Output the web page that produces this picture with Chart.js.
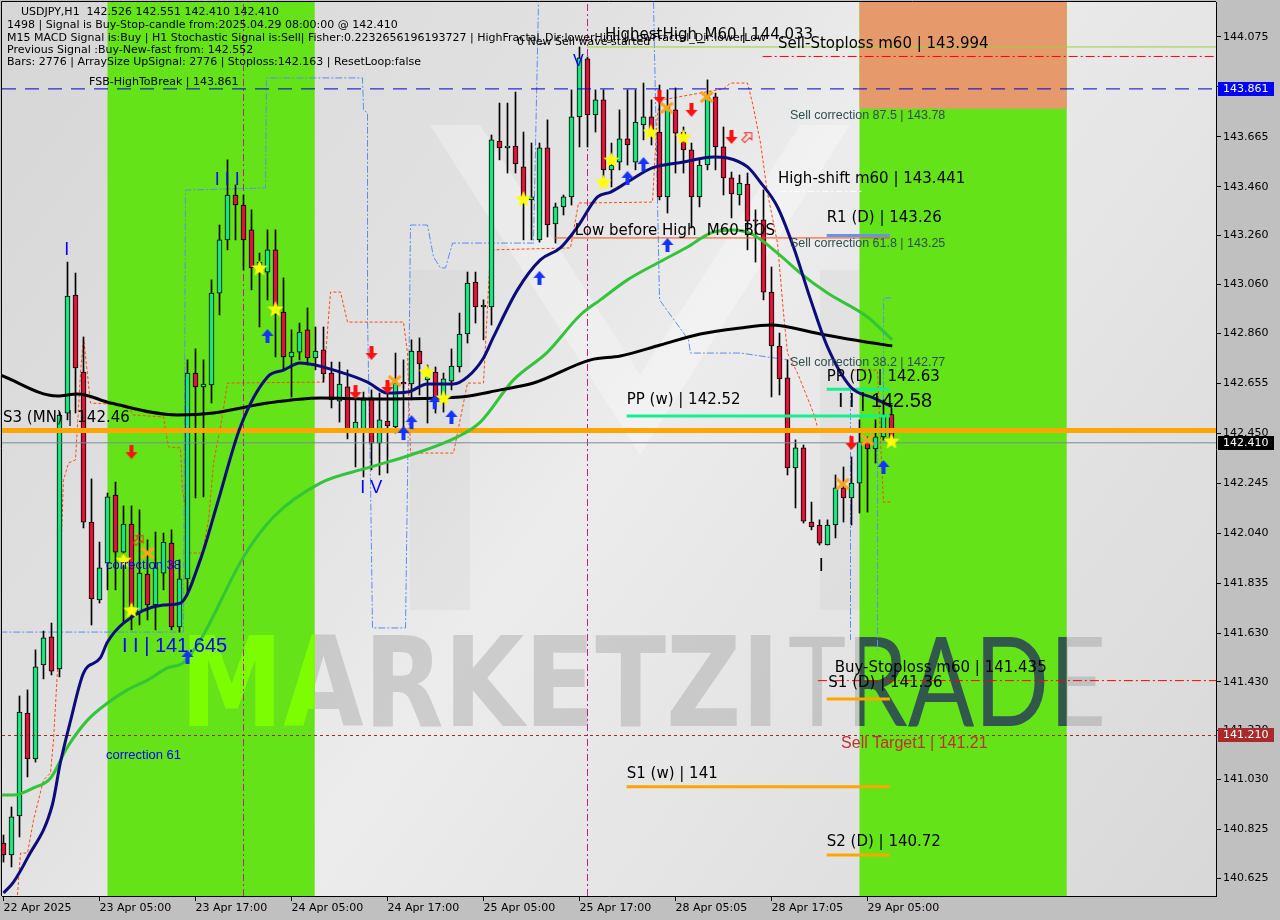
<!DOCTYPE html>
<html>
<head>
<meta charset="utf-8">
<title>USDJPY,H1</title>
<script src="https://cdn.jsdelivr.net/npm/chart.js@4.4.1/dist/chart.umd.min.js"></script>
<style>
  html, body { margin: 0; padding: 0; background: #c0c0c0; overflow: hidden; }
  canvas { display: block; }
</style>
</head>
<body>
<canvas id="chart" width="1280" height="920"></canvas>
<script>
// bar index 0 = 22 Apr 17:00, last bar 111 = 29 Apr 08:00
const tickBars = [0, 12, 24, 36, 48, 60, 72, 84, 96, 108];
const tickLabels = ['22 Apr 2025', '23 Apr 05:00', '23 Apr 17:00', '24 Apr 05:00', '24 Apr 17:00',
  '25 Apr 05:00', '25 Apr 17:00', '28 Apr 05:05', '28 Apr 17:05', '29 Apr 05:00'];
const priceTicks = [140.625, 140.825, 141.030, 141.230, 141.430, 141.630, 141.835, 142.040, 142.245,
  142.450, 142.655, 142.860, 143.060, 143.260, 143.460, 143.665, 143.870, 144.075];

const opens = [140.769,140.720,140.880,141.302,141.114,141.499,141.614,141.483,142.532,143.016,
142.700,142.085,141.766,141.917,142.196,141.962,142.077,141.716,141.872,141.745,
141.876,141.999,141.655,141.852,142.696,142.639,142.647,143.024,143.242,143.426,
143.385,143.283,143.127,143.110,143.201,142.946,142.762,142.782,142.873,142.758,
142.791,142.696,142.581,142.639,142.463,142.463,142.594,142.409,142.499,142.475,
142.659,142.651,142.786,142.668,142.700,142.598,142.663,142.721,142.856,143.069,
142.967,142.967,143.647,143.619,143.627,143.541,143.406,143.242,143.619,143.307,
143.377,143.418,143.746,143.984,143.754,143.816,143.529,143.561,143.656,143.561,
143.713,143.746,143.684,143.418,143.775,143.684,143.611,143.418,143.549,143.828,
143.623,143.496,143.426,143.471,143.324,143.324,143.028,142.807,142.676,142.307,
142.389,142.085,142.073,141.991,142.073,142.225,142.184,142.245,142.413,142.385,
142.434,142.526];
const highs = [140.802,140.917,141.372,141.397,141.561,141.638,141.671,142.536,143.151,143.106,
142.844,142.262,142.003,142.204,142.249,142.151,142.151,142.135,142.012,142.044,
142.040,142.053,141.930,142.750,142.795,142.750,143.078,143.303,143.570,143.467,
143.426,143.365,143.188,143.283,143.283,143.086,142.873,142.901,142.963,142.885,
142.885,142.741,142.741,142.709,142.586,142.618,142.627,142.614,142.614,142.778,
142.750,142.832,142.840,142.729,142.721,142.696,142.795,142.942,143.110,143.110,
142.996,143.672,143.803,143.803,143.848,143.684,143.639,143.639,143.734,143.393,
143.426,143.857,144.033,143.992,143.857,143.857,143.639,143.775,143.857,143.857,
143.885,143.816,143.877,143.857,143.865,143.705,143.639,143.570,143.898,143.844,
143.705,143.520,143.508,143.516,143.365,143.447,143.131,142.860,142.750,142.422,
142.401,142.167,142.094,142.094,142.278,142.311,142.352,142.504,142.434,142.504,
142.586,142.551];
const lows = [140.691,140.671,140.794,141.040,141.101,141.442,141.458,141.450,142.504,142.532,
142.061,141.663,141.753,141.807,141.807,141.671,141.643,141.663,141.684,141.643,
141.807,141.643,141.634,141.786,142.184,142.188,142.573,142.934,143.201,143.242,
143.119,143.037,142.885,142.996,142.762,142.709,142.598,142.750,142.729,142.709,
142.659,142.553,142.495,142.426,142.311,142.270,142.299,142.278,142.286,142.450,
142.463,142.586,142.606,142.491,142.532,142.536,142.627,142.700,142.819,142.901,
142.832,142.893,143.570,143.516,143.516,143.242,143.242,143.233,143.254,143.229,
143.344,143.385,143.623,143.623,143.684,143.467,143.459,143.529,143.549,143.529,
143.652,143.631,143.406,143.352,143.516,143.516,143.291,143.377,143.529,143.529,
143.426,143.332,143.385,143.201,143.151,142.996,142.598,142.606,142.278,142.143,
142.081,142.053,141.991,141.991,142.020,142.085,142.073,142.122,142.126,142.327,
142.421,142.410];
const closes = [140.720,140.876,141.306,141.114,141.491,141.610,141.474,142.524,143.012,142.717,
142.085,141.770,141.897,142.188,141.962,142.077,141.737,141.876,141.745,141.897,
142.003,141.655,141.852,142.696,142.639,142.651,143.024,143.242,143.426,143.385,
143.242,143.127,143.151,143.201,142.946,142.762,142.782,142.864,142.758,142.786,
142.692,142.586,142.651,142.463,142.495,142.586,142.409,142.504,142.479,142.655,
142.651,142.786,142.733,142.700,142.598,142.672,142.725,142.856,143.065,142.967,
142.975,143.652,143.619,143.627,143.553,143.406,143.418,143.619,143.303,143.377,
143.418,143.746,143.988,143.754,143.816,143.529,143.549,143.656,143.631,143.725,
143.746,143.684,143.418,143.787,143.680,143.611,143.418,143.549,143.828,143.623,
143.496,143.430,143.475,143.319,143.319,143.028,142.807,142.672,142.307,142.389,
142.089,142.065,141.999,142.073,142.225,142.184,142.245,142.413,142.385,142.434,
142.524,142.410];

// moving averages, read at sample bars
const maSlowBars = [-0.4,6.75,9.25,13.4,21.75,26.25,33,39.6,46.25,57.1,62.1,66.25,73.4,77.1,82.1,87.1,92.1,95.9,102.1,107.1,111.1];
const maSlowVals = [142.688,142.602,142.610,142.573,142.524,142.532,142.573,142.594,142.590,142.598,142.627,142.655,142.750,142.766,142.811,142.856,142.881,142.893,142.856,142.827,142.807];
const maFastBars = [0,1.25,3,6.1,7.1,8.4,10,12.1,13,15,20,22.1,24.6,26.75,29.6,33,35,37.1,42.1,45.5,48,50.5,53,56.25,58,60,61.25,64.25,67.1,69.6,71.75,74.25,75.9,78,81.1,85,88.75,90.5,93,94.6,96.75,98.75,100.9,103,105.9,108.75,111.1];
const maFastVals = [140.564,140.609,140.708,140.925,141.097,141.273,141.466,141.528,141.593,141.671,141.745,141.753,141.930,142.163,142.475,142.680,142.708,142.737,142.700,142.659,142.614,142.618,142.651,142.651,142.680,142.758,142.844,143.037,143.160,143.209,143.295,143.418,143.438,143.479,143.537,143.561,143.582,143.578,143.541,143.479,143.377,143.213,142.996,142.803,142.639,142.594,142.557];
const maMidBars = [-0.4,1.25,3.75,5.9,8,10.5,13,15.5,18,20.5,22.4,24.6,30,33.75,39.6,45.5,50.9,56.75,59.6,63.75,68,72.1,74.6,78,81.75,85.5,88.4,91.25,93.75,96.75,99.6,103,108,111.1];
const maMidVals = [140.966,140.966,140.995,141.036,141.163,141.273,141.343,141.397,141.437,141.487,141.507,141.601,141.942,142.106,142.245,142.307,142.360,142.434,142.495,142.668,142.782,142.934,142.996,143.078,143.147,143.213,143.270,143.282,143.262,143.188,143.106,143.024,142.926,142.832];

// step envelopes (null = break)
const envRedBars = [1.75,2.125,3,3.75,5,5.875,6.25,6.75,7.125,7.5,8.125,9,9.625,10,10.875,15.5,16.25,20,20.625,22.125,22.375,22.75,23,24.875,25.625,26.25,27.125,28,40,40.875,42.125,43,50,50.5,50.875,56.25,58,60,60.875,70.875,71.875,81.125,81.75,82.125,90,90.875,93,93.625,94.625,95.5,96.75,97.5,98,99.25,101.25,101.75,null,106.25,109.25,109.625,110,110.875];
const envRedVals = [140.556,140.728,140.728,140.863,141.027,141.056,141.192,141.478,141.917,142.257,142.327,142.340,142.696,142.844,142.573,142.565,142.524,142.516,142.393,142.389,142.216,142.147,141.958,141.958,142.094,142.327,142.475,142.655,142.659,143.028,143.028,142.905,142.905,142.778,142.368,142.368,142.655,142.655,143.201,143.209,143.393,143.397,143.762,143.815,143.861,143.885,143.885,143.803,143.639,143.434,143.229,142.942,142.778,142.696,142.532,142.475,null,142.708,142.708,142.421,142.167,142.167];
const envBlueBars = [-0.4,22.5,22.75,32.75,32.875,44.875,45,45.5,45.5,45.875,46.125,50.25,50.5,50.625,50.875,53,53.75,54.625,55.25,56.125,66.25,66.875,null,81.25,81.75,82,85.625,85.875,92.125,98,null,105.875,105.875,null,109.25,109.25,null,110,110,111.1];
const envBlueVals = [141.634,141.634,143.446,143.455,143.906,143.906,143.775,143.762,142.926,142.257,141.651,141.651,142.257,142.557,143.303,143.303,143.172,143.127,143.127,143.229,143.229,144.217,null,144.217,143.406,142.996,142.832,142.778,142.778,142.750,null,142.639,141.601,null,142.401,141.560,null,142.421,143.004,143.004];

// signal markers [bar, price]
const starBars = [15,16,32,34,52.9,55,65,75,76,80.9,85,111];
const starVals = [141.929,141.724,143.127,142.959,142.700,142.594,143.410,143.479,143.570,143.684,143.664,142.417];
const buyBars = [23,33,50,51,53.9,56,67,78,80,83,110];
const buyVals = [141.532,142.848,142.450,142.495,142.577,142.516,143.086,143.496,143.553,143.221,142.311];
const sellBars = [16,44,46,48,82,86,91,106];
const sellVals = [142.372,142.618,142.778,142.639,143.828,143.775,143.664,142.409];
const crossBars = [18,48.9,82.9,87.9,104.9,108];
const crossVals = [141.958,142.663,143.783,143.828,142.241,142.421];
const hollowBars = [16.9,93];
const hollowVals = [142.012,143.664];

// levels
const fsbHigh = 143.861, sellStop = 143.994, highestHigh = 144.033, highShift = 143.441;
const buyStop = 141.435, sellTarget = 141.21, s3Month = 142.46, lastPrice = 142.41;
const dailyNames = ['R1 (D)', 'PP (D)', 'S1 (D)', 'S2 (D)'];
const dailyVals = [143.26, 142.63, 141.36, 140.72];
const weeklyNames = ['PP (w)', 'S1 (w)'];
const weeklyVals = [142.52, 141.00];
const corrNames = ['87.5', '61.8', '38.2'];
const corrVals = [143.78, 143.25, 142.77];
const markerLines = [30, 73];
const greenZones = [[13, 38.9], [107, 132.9]];

const header = [
  'USDJPY,H1  142.526 142.551 142.410 142.410',
  '1498 | Signal is Buy-Stop-candle from:2025.04.29 08:00:00 @ 142.410',
  'M15 MACD Signal is:Buy | H1 Stochastic Signal is:Sell| Fisher:0.2232656196193727 | HighFractal_Dir:lowerHigh | LowFractal_Dir:lowerLow',
  'Previous Signal :Buy-New-fast from: 142.552',
  'Bars: 2776 | ArraySize UpSignal: 2776 | Stoploss:142.163 | ResetLoop:false'
];

const X_MIN = -0.1875, X_MAX = 151.5625, Y_MIN = 140.5519, Y_MAX = 144.2173;
const DV = '"DejaVu Sans"', LS = '"Liberation Sans"';

function pts(xs, ys) { return xs.map((x, i) => ({ x: x, y: ys[i] })); }
function hline(v, from, to) { return [{ x: from, y: v }, { x: to, y: v }]; }

function icon(kind) {
  const c = document.createElement('canvas');
  c.width = 18; c.height = 18;
  const g = c.getContext('2d');
  if (kind === 'star') {
    g.fillStyle = '#ffff00';
    g.beginPath();
    for (let k = 0; k < 10; k++) {
      const r = k % 2 ? 3.8 : 8.5, a = -Math.PI / 2 + k * Math.PI / 5;
      g.lineTo(9 + r * Math.cos(a), 9.5 + r * Math.sin(a));
    }
    g.closePath(); g.fill();
  } else if (kind === 'up' || kind === 'down') {
    g.fillStyle = kind === 'up' ? '#1433ff' : '#ff1010';
    if (kind === 'down') { g.translate(0, 18); g.scale(1, -1); }
    g.beginPath();
    g.moveTo(9, 2); g.lineTo(15, 9); g.lineTo(11, 9); g.lineTo(11, 16);
    g.lineTo(7, 16); g.lineTo(7, 9); g.lineTo(3, 9); g.closePath(); g.fill();
  } else if (kind === 'cross') {
    g.strokeStyle = '#ffa31a'; g.lineWidth = 3;
    g.beginPath(); g.moveTo(3, 4); g.lineTo(15, 14); g.moveTo(15, 4); g.lineTo(3, 14); g.stroke();
  } else {
    g.strokeStyle = '#ff2020'; g.lineWidth = 1;
    g.translate(9, 9); g.rotate(-Math.PI / 4);
    g.beginPath();
    g.moveTo(6, 0); g.lineTo(1, -5); g.lineTo(1, -2); g.lineTo(-6, -2);
    g.lineTo(-6, 2); g.lineTo(1, 2); g.lineTo(1, 5); g.closePath(); g.stroke();
  }
  return c;
}

function lineDs(data, color, width, order, extra) {
  return Object.assign({ type: 'line', data: data, borderColor: color, borderWidth: width,
    pointRadius: 0, fill: false, order: order, tension: 0 }, extra || {});
}
function markerDs(xs, ys, kind) {
  return { type: 'line', data: pts(xs, ys), showLine: false, pointStyle: icon(kind),
    pointRadius: 8, order: 1 };
}

const datasets = [];
// envelopes & vertical marks
datasets.push(lineDs(pts(envRedBars, envRedVals), '#ff4a12', 1, 12, { borderDash: [3, 2] }));
datasets.push(lineDs(pts(envBlueBars, envBlueVals), '#5a8ff0', 1, 12, { borderDash: [7, 2, 2, 2] }));
markerLines.forEach(b => datasets.push(lineDs([{ x: b, y: Y_MIN }, { x: b, y: Y_MAX }], '#c0208a', 1, 11, { borderDash: [7, 3, 2, 3] })));
// candles
datasets.push({ type: 'bar', data: opens.map((o, i) => ({ x: i, y: [lows[i], highs[i]] })),
  backgroundColor: '#000', borderWidth: 0, barThickness: 1, grouped: false, order: 9 });
datasets.push({ type: 'bar', data: opens.map((o, i) => ({ x: i, y: [o, closes[i]] })),
  backgroundColor: opens.map((o, i) => closes[i] >= o ? '#19e67f' : '#dc1438'),
  borderColor: '#000', borderWidth: 1, borderSkipped: false, barThickness: 5, minBarLength: 1,
  grouped: false, order: 8 });
// level lines
datasets.push(lineDs(hline(lastPrice, X_MIN, X_MAX), '#7a8a99', 1, 7));
datasets.push(lineDs(hline(fsbHigh, X_MIN, X_MAX), '#0000d0', 1, 7, { borderDash: [14, 9] }));
datasets.push(lineDs(hline(sellTarget, X_MIN, X_MAX), '#9b2a2a', 1, 7, { borderDash: [3, 3] }));
datasets.push(lineDs(hline(sellStop, 94.9, X_MAX), '#ff0000', 1, 7, { borderDash: [9, 3, 2, 3] }));
datasets.push(lineDs(hline(buyStop, 101.8, X_MAX), '#ff0000', 1, 7, { borderDash: [9, 3, 2, 3] }));
datasets.push(lineDs(hline(highestHigh, 72.9, X_MAX), '#9ad43a', 1, 7));
datasets.push(lineDs(hline(highShift, 97.1, 107.3), '#ffffff', 1, 7, { borderDash: [6, 3, 2, 3] }));
datasets.push(lineDs(hline(corrVals[1], 68.9, 110.8), '#ff4a12', 1, 7));
datasets.push(lineDs(hline(s3Month, X_MIN, X_MAX), '#ffa500', 5, 6));
datasets.push(lineDs(hline(weeklyVals[0], 77.9, 110.8), '#14f08c', 3, 6));
datasets.push(lineDs(hline(weeklyVals[1], 77.9, 110.8), '#ffa500', 3, 6));
datasets.push(lineDs(hline(dailyVals[0], 102.9, 110.8), '#6495ed', 3, 6));
datasets.push(lineDs(hline(dailyVals[1], 102.9, 110.8), '#14f08c', 3, 6));
datasets.push(lineDs(hline(dailyVals[2], 102.9, 110.8), '#ffa500', 3, 6));
datasets.push(lineDs(hline(dailyVals[3], 102.9, 110.8), '#ffa500', 3, 6));
// moving averages
datasets.push(lineDs(pts(maMidBars, maMidVals), '#33c43a', 3, 5, { cubicInterpolationMode: 'monotone' }));
datasets.push(lineDs(pts(maSlowBars, maSlowVals), '#000000', 3, 4, { cubicInterpolationMode: 'monotone' }));
datasets.push(lineDs(pts(maFastBars, maFastVals), '#0c0c7a', 3, 3, { cubicInterpolationMode: 'monotone' }));
// signals
datasets.push(markerDs(starBars, starVals, 'star'));
datasets.push(markerDs(buyBars, buyVals, 'up'));
datasets.push(markerDs(sellBars, sellVals, 'down'));
datasets.push(markerDs(crossBars, crossVals, 'cross'));
datasets.push(markerDs(hollowBars, hollowVals, 'hollow'));

const backdrop = {
  id: 'backdrop',
  beforeDraw(chart) {
    const { ctx, chartArea: a, scales: { x, y } } = chart;
    ctx.save();
    ctx.fillStyle = '#c0c0c0';
    ctx.fillRect(0, 0, chart.width, chart.height);
    const gr = ctx.createLinearGradient(a.left, a.top, a.right, a.bottom);
    gr.addColorStop(0, '#d6d6d6'); gr.addColorStop(0.35, '#e2e2e2');
    gr.addColorStop(0.5, '#ececec'); gr.addColorStop(0.75, '#e2e2e2'); gr.addColorStop(1, '#d8d8d8');
    ctx.fillStyle = gr;
    ctx.fillRect(a.left, a.top, a.right - a.left, a.bottom - a.top);
    // faint logo bands
    ctx.fillStyle = 'rgba(255,255,255,0.3)';
    ctx.beginPath();
    ctx.moveTo(430, 125); ctx.lineTo(480, 125); ctx.lineTo(640, 375); ctx.lineTo(800, 125);
    ctx.lineTo(850, 125); ctx.lineTo(640, 455); ctx.closePath(); ctx.fill();
    ctx.fillStyle = 'rgba(200,200,200,0.22)';
    ctx.fillRect(410, 270, 60, 340); ctx.fillRect(820, 270, 60, 340);
    const zx = greenZones.map(z => [x.getPixelForValue(z[0]), x.getPixelForValue(z[1])]);
    const wm = (colA, colB) => {
      ctx.save();
      ctx.font = 'bold 124px ' + DV;
      let w = ctx.measureText('MARKETZI').width;
      ctx.translate(180, 726); ctx.scale(600 / w, 1);
      ctx.fillStyle = colA; ctx.fillText('MARKETZI', 0, 0);
      ctx.restore();
      ctx.save();
      ctx.font = '124px Lato';
      w = ctx.measureText('TRADE').width;
      ctx.translate(788, 726); ctx.scale(318 / w, 1);
      ctx.fillStyle = colB; ctx.fillText('TRADE', 0, 0);
      ctx.restore();
    };
    wm('rgba(150,150,150,0.36)', 'rgba(150,150,150,0.4)');
    zx.forEach((z, k) => {
      ctx.fillStyle = '#63e318';
      ctx.fillRect(z[0], a.top, z[1] - z[0], a.bottom - a.top);
      if (k === 1) {
        ctx.fillStyle = '#e69a6c';
        ctx.fillRect(z[0], a.top, z[1] - z[0], y.getPixelForValue(corrVals[0]) - a.top);
      }
      ctx.save();
      ctx.beginPath(); ctx.rect(z[0], a.top, z[1] - z[0], a.bottom - a.top); ctx.clip();
      wm('rgba(128,255,0,0.9)', 'rgba(47,79,79,0.95)');
      ctx.restore();
    });
    ctx.restore();
  }
};

const notes = [
  [10.7, 143.889, 'FSB-HighToBreak | 143.861', '11px ' + DV, '#000'],
  [64.2, 144.053, '0 New Sell wave started', '11px ' + DV, '#000'],
  [75.2, 144.082, 'HighestHigh_M60 | 144.033', '15px ' + DV, '#000'],
  [96.8, 144.045, 'Sell-Stoploss m60 | 143.994', '15px ' + DV, '#000'],
  [98.3, 143.750, 'Sell correction ' + corrNames[0] + ' | ' + corrVals[0], '12.5px ' + LS, '#2f4f4f'],
  [96.8, 143.492, 'High-shift m60 | 143.441', '15px ' + DV, '#000'],
  [102.9, 143.332, dailyNames[0] + ' | ' + dailyVals[0], '15px ' + DV, '#000'],
  [71.4, 143.278, 'Low before High', '15px ' + DV, '#000'],
  [87.9, 143.278, 'M60-BOS', '15px ' + DV, '#000'],
  [98.3, 143.225, 'Sell correction ' + corrNames[1] + ' | ' + corrVals[1], '12.5px ' + LS, '#2f4f4f'],
  [98.3, 142.741, 'Sell correction ' + corrNames[2] + ' | ' + corrVals[2], '12.5px ' + LS, '#2f4f4f'],
  [102.9, 142.680, dailyNames[1] + ' | ' + dailyVals[1], '15px ' + DV, '#000'],
  [104.3, 142.581, 'I I | 142.58', '20px ' + LS, '#000'],
  [77.9, 142.586, weeklyNames[0] + ' | ' + weeklyVals[0], '15px ' + DV, '#000'],
  [-0.06, 142.512, 'S3 (MN) | ' + s3Month, '15px ' + DV, '#000'],
  [12.8, 141.909, 'correction 38', '13px ' + LS, '#0000ff'],
  [14.8, 141.573, 'I I | 141.645', '20px ' + LS, '#0000ff'],
  [44.6, 142.225, 'I V', '18px ' + LS, '#0000ff'],
  [26.4, 143.488, 'I I I', '18px ' + LS, '#0000ff'],
  [7.6, 143.200, 'I', '18px ' + LS, '#0000ff'],
  [101.9, 141.905, 'I', '18px ' + LS, '#000'],
  [71.2, 143.971, 'V', '16px ' + LS, '#0000ff'],
  [103.9, 141.487, 'Buy-Stoploss m60 | 141.435', '15px ' + DV, '#000'],
  [103.1, 141.425, dailyNames[2] + ' | ' + dailyVals[2], '15px ' + DV, '#000'],
  [104.7, 141.175, 'Sell Target1 | ' + sellTarget, '16px ' + LS, '#c0302e'],
  [77.9, 141.052, weeklyNames[1] + ' | 141', '15px ' + DV, '#000'],
  [102.9, 140.773, dailyNames[3] + ' | ' + dailyVals[3], '15px ' + DV, '#000'],
  [12.8, 141.130, 'correction 61', '13px ' + LS, '#0000ff']
];

const overlay = {
  id: 'overlay',
  afterDatasetsDraw(chart) {
    const { ctx, scales: { x, y } } = chart;
    ctx.save();
    ctx.textBaseline = 'middle'; ctx.textAlign = 'left';
    notes.forEach(n => {
      ctx.font = n[3]; ctx.fillStyle = n[4];
      ctx.fillText(n[2], x.getPixelForValue(n[0]), y.getPixelForValue(n[1]));
    });
    ctx.font = '11px ' + DV; ctx.fillStyle = '#000';
    header.forEach((t, i) => ctx.fillText(t, i === 0 ? 21 : 7, [12, 25, 38, 50, 62][i]));
    ctx.restore();
  },
  afterDraw(chart) {
    const { ctx, chartArea: a, scales: { y } } = chart;
    ctx.save();
    ctx.strokeStyle = '#000'; ctx.lineWidth = 1;
    ctx.beginPath(); ctx.moveTo(a.left - 0.5, a.bottom); ctx.lineTo(a.left - 0.5, a.top - 0.5);
    ctx.lineTo(a.right, a.top - 0.5); ctx.stroke();
    [[fsbHigh, '#0000ff'], [lastPrice, '#000000'], [sellTarget, '#a82a2a']].forEach(b => {
      const py = Math.round(y.getPixelForValue(b[0]));
      ctx.fillStyle = b[1];
      ctx.fillRect(a.right + 2, py - 7, 56, 14);
      ctx.fillStyle = '#fff'; ctx.font = '11px ' + DV;
      ctx.textBaseline = 'middle'; ctx.textAlign = 'left';
      ctx.fillText(b[0].toFixed(3), a.right + 7, py + 0.5);
    });
    ctx.restore();
  }
};

function noPad(s) { s.paddingTop = 0; s.paddingBottom = 0; s.paddingLeft = 0; s.paddingRight = 0; }

new Chart(document.getElementById('chart'), {
  type: 'bar',
  data: { datasets: datasets },
  options: {
    responsive: false, animation: false, devicePixelRatio: 1, events: [],
    layout: { autoPadding: false, padding: { left: 2, top: 2, right: 0, bottom: 0 } },
    plugins: { legend: { display: false }, tooltip: { enabled: false } },
    scales: {
      x: {
        type: 'linear', min: X_MIN, max: X_MAX, offset: false,
        afterFit: s => { s.height = 24; noPad(s); },
        afterBuildTicks: s => { s.ticks = tickBars.map(v => ({ value: v })); },
        grid: { display: true, drawOnChartArea: false, drawTicks: true, tickLength: 5, color: '#000', offset: false },
        border: { display: true, color: '#000', width: 1 },
        ticks: { autoSkip: false, maxRotation: 0, align: 'start', padding: 1, color: '#000',
          font: { family: 'DejaVu Sans', size: 11 },
          callback: (v, i) => tickLabels[i] }
      },
      y: {
        type: 'linear', position: 'right', min: Y_MIN, max: Y_MAX, beginAtZero: false,
        afterFit: s => { s.width = 64; noPad(s); },
        afterBuildTicks: s => { s.ticks = priceTicks.map(v => ({ value: v })); },
        grid: { display: true, drawOnChartArea: false, drawTicks: true, tickLength: 5, color: '#000' },
        border: { display: true, color: '#000', width: 1 },
        ticks: { autoSkip: false, padding: 2, color: '#000',
          font: { family: 'DejaVu Sans', size: 11 },
          callback: v => v.toFixed(3) }
      }
    }
  },
  plugins: [backdrop, overlay]
});
</script>
</body>
</html>
